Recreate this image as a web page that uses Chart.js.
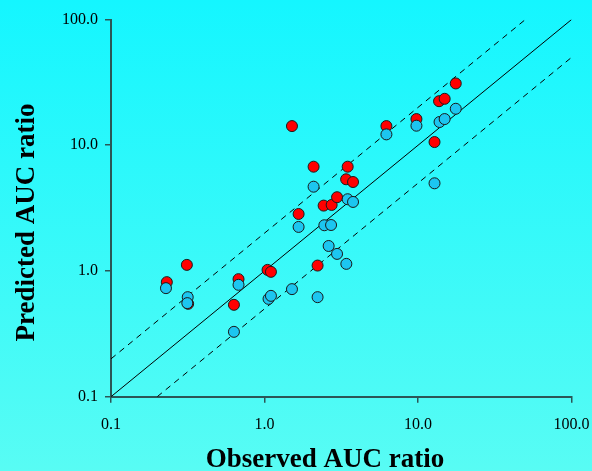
<!DOCTYPE html>
<html>
<head>
<meta charset="utf-8">
<script src="https://cdn.jsdelivr.net/npm/chart.js@4.4.0/dist/chart.umd.min.js"></script>
<style>
  html, body { margin: 0; padding: 0; }
  canvas { display: block; }
</style>
</head>
<body>
<canvas id="id_chart" width="592" height="471"></canvas>
<script>
// observed / predicted AUC ratio
var redObserved  = [0.231, 0.312, 0.318, 0.677, 0.632, 1.046, 1.101, 1.509, 1.667, 2.087, 2.216, 2.426,
                    2.736, 2.967, 3.40, 3.48, 3.77, 6.22, 9.76, 12.8, 13.7, 14.9, 17.6];
var redPredicted = [0.815, 1.118, 0.548, 0.861, 0.538, 1.02, 0.984, 14.2, 2.84, 6.75, 1.104, 3.31,
                    3.35, 3.86, 5.36, 6.75, 5.10, 14.2, 16.15, 10.6, 22.4, 23.4, 31.0];

var blueObserved  = [0.228, 0.316, 0.314, 0.677, 0.632, 1.062, 1.101, 1.509, 1.667, 2.087, 2.216, 2.452,
                     2.712, 2.616, 2.967, 3.41, 3.48, 3.77, 6.22, 9.76, 12.8, 13.8, 14.9, 17.6];
var bluePredicted = [0.730, 0.619, 0.555, 0.776, 0.328, 0.600, 0.634, 0.717, 2.24, 4.68, 0.619, 2.31,
                     2.32, 1.58, 1.367, 1.139, 3.72, 3.54, 12.2, 14.3, 4.98, 15.3, 16.15, 19.5];

// unity line and two-fold lines (end points)
var unityX = [0.1, 100],  unityY = [0.1, 100];
var upperX = [0.1, 50],   upperY = [0.2, 100];
var lowerX = [0.2, 100],  lowerY = [0.1, 50];

var tickValues = [0.1, 1, 10, 100];
var tickLabels = ['0.1', '1.0', '10.0', '100.0'];

var xTitle = 'Observed AUC ratio';
var yTitle = 'Predicted AUC ratio';

var AXIS_COLOR = '#2b5656';
var SERIF = '"Liberation Serif", "Times New Roman", serif';

var toPoints = function( xs, ys ){
    var pts = [];
    for( var i = 0; i < xs.length; i++ ){
        pts.push({ x : xs[i], y : ys[i] });
    }
    return pts;
};

var lineSet = function( xs, ys, dash ){
    return {
        type : 'line',
        data : toPoints( xs, ys ),
        borderColor : '#000000',
        borderWidth : 1,
        borderDash : dash,
        pointRadius : 0,
        fill : false,
        order : 3
    };
};

var pointSet = function( xs, ys, color, order ){
    return {
        type : 'scatter',
        data : toPoints( xs, ys ),
        backgroundColor : color,
        borderColor : '#1a1a1a',
        borderWidth : 1,
        pointRadius : 5.5,
        order : order
    };
};

// cyan gradient behind everything
var backgroundPlugin = {
    id : 'bg',
    beforeDraw : function( chart ){
        var ctx = chart.ctx;
        var g = ctx.createLinearGradient( 0, 0, 0, chart.height );
        g.addColorStop( 0, '#14f6ff' );
        g.addColorStop( 1, '#58fcf4' );
        ctx.save();
        ctx.fillStyle = g;
        ctx.fillRect( 0, 0, chart.width, chart.height );
        ctx.restore();
    }
};

// axis titles, placed like the original (a bit left of / below the plot centre)
var titlePlugin = {
    id : 'axisTitles',
    afterDraw : function( chart ){
        var ctx = chart.ctx;
        ctx.save();
        ctx.fillStyle = '#000000';
        ctx.font = 'bold 27px ' + SERIF;
        ctx.textAlign = 'center';
        ctx.textBaseline = 'alphabetic';
        ctx.fillText( xTitle, 325, 467 );
        ctx.translate( 33.5, 222.5 );
        ctx.rotate( -Math.PI / 2 );
        ctx.fillText( yTitle, 0, 0 );
        ctx.restore();
    }
};

var logAxis = function( isX ){
    return {
        type : 'logarithmic',
        min : 0.1,
        max : 100,
        afterBuildTicks : function( scale ){
            scale.ticks = tickValues.map(function( v ){ return { value : v }; });
        },
        afterFit : function( scale ){
            if( isX ){
                scale.height = 471 - 396.7;
                // let the "100.0" label hang over the right margin
                scale.paddingLeft = 0;
                scale.paddingRight = 0;
            }else{
                scale.width = 111;
            }
        },
        ticks : {
            autoSkip : false,
            maxRotation : 0,
            padding : isX ? 12 : 7,
            color : '#000000',
            font : { family : SERIF, size : 16 },
            callback : function( value ){
                var i = tickValues.indexOf( value );
                return i < 0 ? '' : tickLabels[i];
            }
        },
        grid : {
            display : true,
            drawOnChartArea : false,
            drawTicks : true,
            tickLength : 6,
            color : AXIS_COLOR,
            lineWidth : 1.5
        },
        border : { display : true, color : AXIS_COLOR, width : 2 },
        title : { display : false }
    };
};

var chart = new Chart( document.getElementById('id_chart').getContext('2d'), {
    type : 'scatter',
    data : {
        datasets : [
            pointSet( blueObserved, bluePredicted, '#1cc6f0', 1 ),
            pointSet( redObserved, redPredicted, '#ff0000', 2 ),
            lineSet( unityX, unityY, [] ),
            lineSet( upperX, upperY, [6, 5] ),
            lineSet( lowerX, lowerY, [6, 5] )
        ]
    },
    options : {
        responsive : false,
        animation : false,
        layout : { padding : { top : 19.5, right : 20.4, left : 0, bottom : 0 } },
        plugins : {
            legend : { display : false },
            tooltip : { enabled : false }
        },
        scales : {
            x : logAxis( true ),
            y : logAxis( false )
        }
    },
    plugins : [ backgroundPlugin, titlePlugin ]
});
</script>
</body>
</html>
